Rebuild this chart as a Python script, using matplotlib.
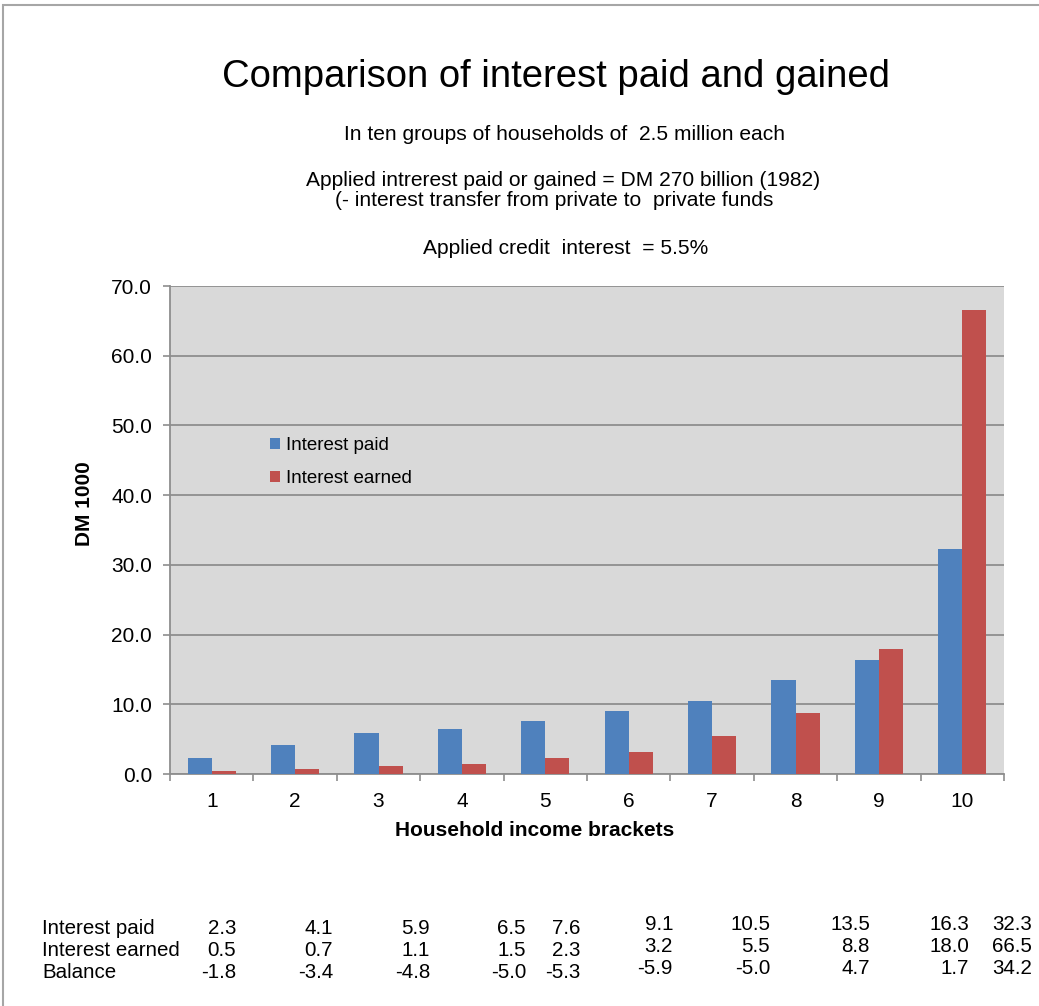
import numpy as np
import matplotlib
matplotlib.use('Agg')
from matplotlib import pyplot as plt
from matplotlib import rcParams
from matplotlib.patches import Rectangle

rcParams['font.family'] = ['Liberation Sans', 'DejaVu Sans']

# household income brackets (10 groups of 2.5 million households)
brackets = ['1', '2', '3', '4', '5', '6', '7', '8', '9', '10']
paid = [2.3, 4.1, 5.9, 6.5, 7.6, 9.1, 10.5, 13.5, 16.3, 32.3]
earned = [0.5, 0.7, 1.1, 1.5, 2.3, 3.2, 5.5, 8.8, 18.0, 66.5]
balance = [-1.8, -3.4, -4.8, -5.0, -5.3, -5.9, -5.0, 4.7, 1.7, 34.2]
row_names = ['Interest paid', 'Interest earned', 'Balance']

c_paid = '#4F81BD'
c_earned = '#C0504D'
c_grid = '#8E8E8E'

W, H = 1039, 1006
fig = plt.figure(figsize=(W/100, H/100), dpi=100)

def fx(px):
    return px / W

def fy(py):
    return 1 - py / H

# outer frame
fig.patches.append(Rectangle((fx(3), fy(1010)), 1.2, fy(5) - fy(1010),
                             transform=fig.transFigure, fill=False,
                             edgecolor='#A6A6A6', linewidth=1.5))

fig.text(fx(556), fy(77), 'Comparison of interest paid and gained',
         ha='center', va='center', fontsize=27.5)
fig.text(fx(564), fy(134), 'In ten groups of households of  2.5 million each',
         ha='center', va='center', fontsize=15.1)
fig.text(fx(563), fy(180), 'Applied intrerest paid or gained = DM 270 billion (1982)',
         ha='center', va='center', fontsize=15.1)
fig.text(fx(554), fy(200), '(- interest transfer from private to  private funds',
         ha='center', va='center', fontsize=15.1)
fig.text(fx(566), fy(249), 'Applied credit  interest  = 5.5%',
         ha='center', va='center', fontsize=15.1)

ax = fig.add_axes([fx(170), fy(774), fx(1004) - fx(170), fy(286) - fy(774)])
ax.set_facecolor('#D9D9D9')

x = np.arange(1, len(brackets) + 1)
bw = 0.288
ax.bar(x - bw/2, paid, width=bw, color=c_paid, label='Interest paid', zorder=3)
ax.bar(x + bw/2, earned, width=bw, color=c_earned, label='Interest earned', zorder=3)

ax.set_xlim(0.5, 10.5)
ax.set_ylim(0, 70)
ax.set_yticks(np.arange(0, 71, 10))
ax.set_yticklabels([f'{v:.1f}' for v in np.arange(0, 71, 10)], fontsize=15)
ax.yaxis.grid(True, color=c_grid, linewidth=1.3, zorder=1)
ax.set_axisbelow(True)

ax.set_xticks(np.arange(0.5, 10.6, 1))
ax.set_xticklabels([])
ax.set_xticks(x, minor=True)
ax.set_xticklabels(brackets, minor=True, fontsize=15)
ax.tick_params(axis='x', which='minor', length=0, pad=13)
ax.tick_params(axis='x', which='major', length=5, color=c_grid, width=1.2)
ax.tick_params(axis='y', length=5, color=c_grid, width=1.2, pad=8)

for s in ['top', 'right']:
    ax.spines[s].set_visible(False)
for s in ['left', 'bottom']:
    ax.spines[s].set_color(c_grid)
    ax.spines[s].set_linewidth(1.3)

# axis titles sit off-centre relative to the plot area
fig.text(fx(84), fy(504), 'DM 1000', rotation=90, ha='center', va='center',
         fontsize=15, fontweight='bold')
fig.text(fx(535), fy(830), 'Household income brackets', ha='center', va='center',
         fontsize=15, fontweight='bold')

ax.legend(loc='upper left', bbox_to_anchor=(fx(270), fy(437)),
          bbox_transform=fig.transFigure, frameon=False, fontsize=13.5,
          handlelength=0.55, handleheight=0.55, handletextpad=0.3,
          labelspacing=0.85, borderaxespad=0, borderpad=0)

# value table below the chart
col_right = [236, 333, 430, 526, 580, 673, 770, 870, 969, 1032]
row_y = [929, 951, 973]
for r, (name, vals) in enumerate(zip(row_names, [paid, earned, balance])):
    fig.text(fx(42), fy(row_y[r]), name, ha='left', va='center', fontsize=14.8)
    for i, v in enumerate(vals):
        dy = -5 if i >= 5 else 0
        fig.text(fx(col_right[i]), fy(row_y[r] + dy), f'{v:.1f}',
                 ha='right', va='center', fontsize=14.8)

fig.savefig('out.png', dpi=100)
